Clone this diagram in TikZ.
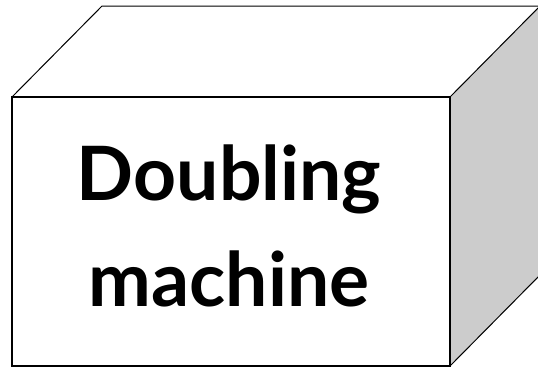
\documentclass[tikz,border=0pt]{standalone}
\usepackage{fontspec}
\newfontfamily\latofont{Lato}
\begin{document}
\begin{tikzpicture}[x=1pt,y=-1pt,
  thinedge/.style={draw=black,line width=1pt,line join=miter},
  frontedge/.style={draw=black,line width=2pt},
  label/.style={font=\latofont\bfseries\fontsize{75}{90}\selectfont,inner sep=0pt,anchor=base}]
\useasboundingbox (0,0) rectangle (538,368);
\clip (0,0) rectangle (538,368);
\coordinate (fl) at (12,97);
\coordinate (fr) at (450,97);
\coordinate (br) at (450,366);
\coordinate (bl) at (12,366);
\coordinate (tl) at (102,6);
\coordinate (tr) at (540,6);
\coordinate (rb) at (540,275);
\fill[white] (fl) -- (tl) -- (tr) -- (fr) -- cycle;
\fill[black!20] (fr) -- (tr) -- (rb) -- (br) -- cycle;
\draw[thinedge] (fl) -- (tl) -- (tr) -- (rb) -- (br);
\draw[thinedge] (fr) -- (tr);
\draw[frontedge,fill=white] (fl) rectangle (br);
\node[label] (l1) at (229,200) {Doubling};
\node[label] (l2) at (229,306) {machine};
\end{tikzpicture}
\end{document}
